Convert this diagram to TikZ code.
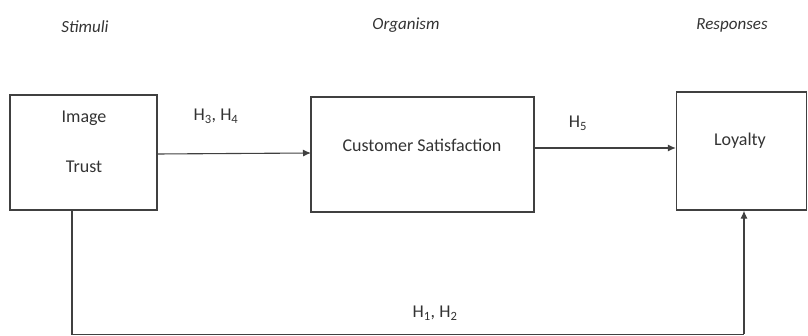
\documentclass[tikz,border=0pt]{standalone}
\usepackage{fontspec}
\setmainfont{Carlito}
\usetikzlibrary{arrows.meta}
\begin{document}
\begin{tikzpicture}[x=1pt,y=-1pt,
  box/.style={draw=black!75,line width=1.3pt,inner sep=0pt},
  conn/.style={draw=black!75,line width=1.1pt,-{Latex[length=8pt,width=7pt]}},
  line/.style={draw=black!75,line width=1.1pt},
  lbl/.style={font=\fontsize{18}{20}\selectfont,text=black!80},
  ttl/.style={font=\itshape\fontsize{17}{19}\selectfont,text=black!80}]
\useasboundingbox (0,0) rectangle (808,336);
\node[box,minimum width=147pt,minimum height=115pt] (st) at (83.5,152.5) {};
\node[box,minimum width=223pt,minimum height=115pt] (cs) at (422.5,154.5) {};
\node[box,minimum width=130pt,minimum height=118pt] (lo) at (741.5,151) {};
\node[lbl] (img) at (84,118) {Image};
\node[lbl] (tr) at (84,167) {Trust};
\node[lbl] (cst) at (422,145) {Customer Satisfaction};
\node[lbl] (loy) at (740,141) {Loyalty};
\node[ttl] (s) at (85,27) {Stimuli};
\node[ttl] (o) at (406,25) {Organism};
\node[ttl] (r) at (732,25) {Responses};
\node[lbl] (h34) at (216,116) {H\textsubscript{3}, H\textsubscript{4}};
\node[lbl] (h5) at (578,123) {H\textsubscript{5}};
\node[lbl] (h12) at (435,313) {H\textsubscript{1}, H\textsubscript{2}};
\coordinate (a1) at (157,154);
\coordinate (a2) at (311,153);
\draw[conn] (a1) -- (a2);
\draw[conn] (cs.east |- 0,148) -- (lo.west |- 0,148);
\coordinate (b1) at (72,334.5);
\coordinate (b2) at (744,334.5);
\draw[line] (st.south -| b1) -- (b1) -- (b2);
\draw[conn] (b2) -- (lo.south -| b2);
\end{tikzpicture}
\end{document}
